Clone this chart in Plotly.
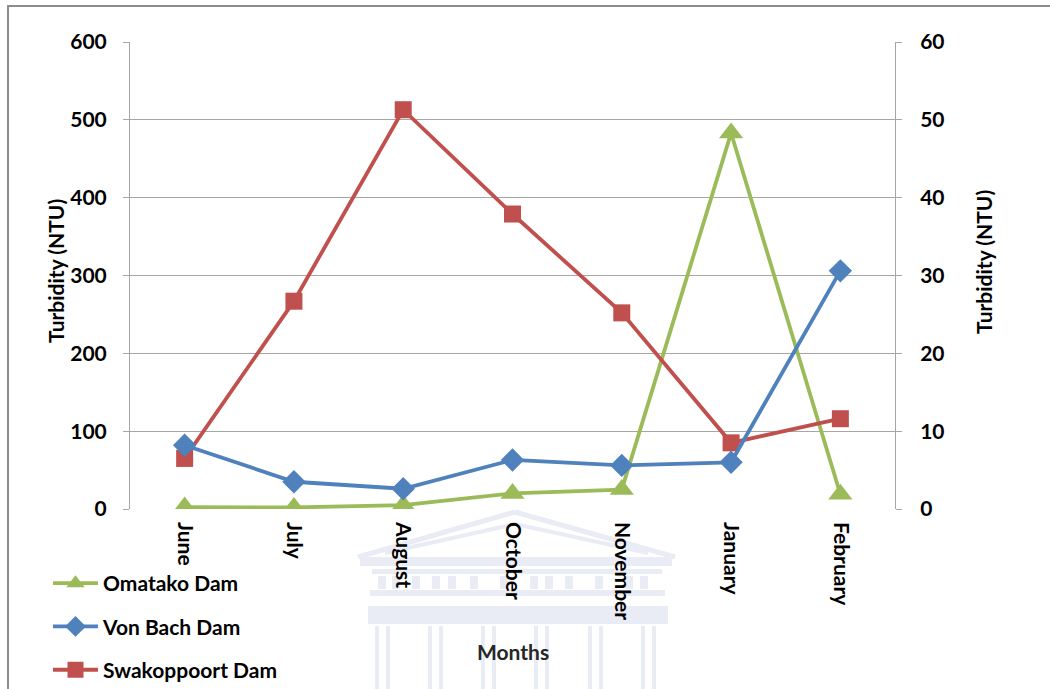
import plotly.graph_objects as go

# Monthly turbidity readings for three dams
months = ["June", "July", "August", "October", "November", "January", "February"]
omatako = [2.5, 2, 5, 20, 25, 483, 19]          # NTU, left axis
von_bach = [8.2, 3.5, 2.6, 6.3, 5.6, 6.0, 30.6]  # NTU, right axis
swakoppoort = [65, 267, 513, 379, 252, 85, 116]  # NTU, left axis

left_ticks = [0, 100, 200, 300, 400, 500, 600]
right_ticks = [0, 10, 20, 30, 40, 50, 60]

FONT = "Lato"
GREEN, BLUE, RED = "#9BBB59", "#4F81BD", "#C0504D"
GRID = "#a6a6a6"

# plot-area geometry in pixels (used to place decorations)
W, H = 1050, 689
ML, MR, MT, MB = 130, 155, 42, 180
PW, PH = W - ML - MR, H - MT - MB


def px(x):
    return (x - ML) / PW


def py(y):
    return (H - MB - y) / PH


fig = go.Figure()
fig.add_trace(go.Scatter(
    x=months, y=omatako, name="Omatako Dam", legendgroup="a",
    mode="lines+markers", line=dict(color=GREEN, width=3.8),
    marker=dict(symbol="triangle-up", size=21, color=GREEN)))
fig.add_trace(go.Scatter(
    x=months, y=von_bach, name="Von Bach Dam", legendgroup="b", yaxis="y2",
    mode="lines+markers", line=dict(color=BLUE, width=3.8),
    marker=dict(symbol="diamond", size=18, color=BLUE)))
fig.add_trace(go.Scatter(
    x=months, y=swakoppoort, name="Swakoppoort Dam", legendgroup="c",
    mode="lines+markers", line=dict(color=RED, width=3.8),
    marker=dict(symbol="square", size=17, color=RED)))

shapes = []
# outer chart frame
shapes.append(dict(type="rect", xref="paper", yref="paper",
                   x0=px(8), x1=px(1070), y0=py(6), y1=py(710),
                   line=dict(color="#8c8c8c", width=2), layer="below"))

# faint building emblem behind the category labels
WM = "#e9ecf4"
def wline(x0, y0, x1, y1, w=5):
    shapes.append(dict(type="line", xref="paper", yref="paper",
                       x0=px(x0), y0=py(y0), x1=px(x1), y1=py(y1),
                       line=dict(color=WM, width=w), layer="below"))

def wrect(x0, y0, x1, y1):
    shapes.append(dict(type="rect", xref="paper", yref="paper",
                       x0=px(x0), y0=py(y0), x1=px(x1), y1=py(y1),
                       line=dict(width=0), fillcolor=WM, layer="below"))

# pediment (double outline)
wline(358, 557, 515, 512, 5)
wline(515, 512, 675, 557, 5)
wline(385, 553, 515, 524, 4)
wline(515, 524, 648, 553, 4)
# cornice and frieze
wrect(360, 557, 672, 566)
wrect(372, 569, 662, 574)
for x0 in [378, 392, 412, 432, 448, 470, 500, 530, 545, 565, 595, 625, 640]:
    wrect(x0, 576, x0 + 8, 589)
wrect(370, 590, 665, 596)
wrect(368, 606, 668, 624)
# columns
for cx in [375, 428, 481, 534, 588, 641]:
    wrect(cx, 626, cx + 4, 689)
    wrect(cx + 11, 626, cx + 15, 689)
    wrect(cx - 3, 616, cx + 18, 622)

title_font = dict(family=FONT, size=21, color="black", weight="bold")
annotations = [
    dict(text="Turbidity (NTU)", xref="paper", yref="paper",
         x=px(55), y=py(271), xanchor="center", yanchor="middle",
         textangle=-90, showarrow=False, font=title_font),
    dict(text="Turbidity (NTU)", xref="paper", yref="paper",
         x=px(983), y=py(262), xanchor="center", yanchor="middle",
         textangle=-90, showarrow=False, font=title_font),
    dict(text="Months", xref="paper", yref="paper",
         x=px(513), y=py(651), xanchor="center", yanchor="middle",
         showarrow=False,
         font=dict(family=FONT, size=21, color="#262626", weight="bold")),
]

tickfont = dict(family=FONT, size=21, color="black", weight="bold")

fig.update_layout(
    width=W, height=H,
    margin=dict(l=ML, r=MR, t=MT, b=MB, autoexpand=False),
    paper_bgcolor="white", plot_bgcolor="rgba(0,0,0,0)",
    font=dict(family=FONT, color="black"),
    xaxis=dict(type="category", categoryorder="array", categoryarray=months,
               range=[-0.5, 6.5], tickangle=90, tickfont=tickfont,
               ticklabelstandoff=12,
               showgrid=False, showline=False, ticks="", zeroline=False),
    yaxis=dict(range=[0, 600], tickvals=left_ticks, tickfont=tickfont,
               ticklabelstandoff=12,
               showgrid=True, gridcolor=GRID, gridwidth=1,
               showline=True, linecolor=GRID, linewidth=1,
               ticks="outside", ticklen=6, tickcolor=GRID,
               zeroline=False),
    yaxis2=dict(range=[0, 60], tickvals=right_ticks, tickfont=tickfont,
                ticklabelstandoff=14,
                overlaying="y", side="right", showgrid=False,
                showline=True, linecolor=GRID, linewidth=1,
                ticks="outside", ticklen=6, tickcolor=GRID,
                zeroline=False),
    legend=dict(x=px(48), y=py(563), xanchor="left", yanchor="top",
                traceorder="grouped", tracegroupgap=13,
                font=dict(family=FONT, size=21, color="black", weight="bold"),
                bgcolor="rgba(0,0,0,0)", itemwidth=45),
    shapes=shapes,
    annotations=annotations,
)

fig.write_html("out.html")
